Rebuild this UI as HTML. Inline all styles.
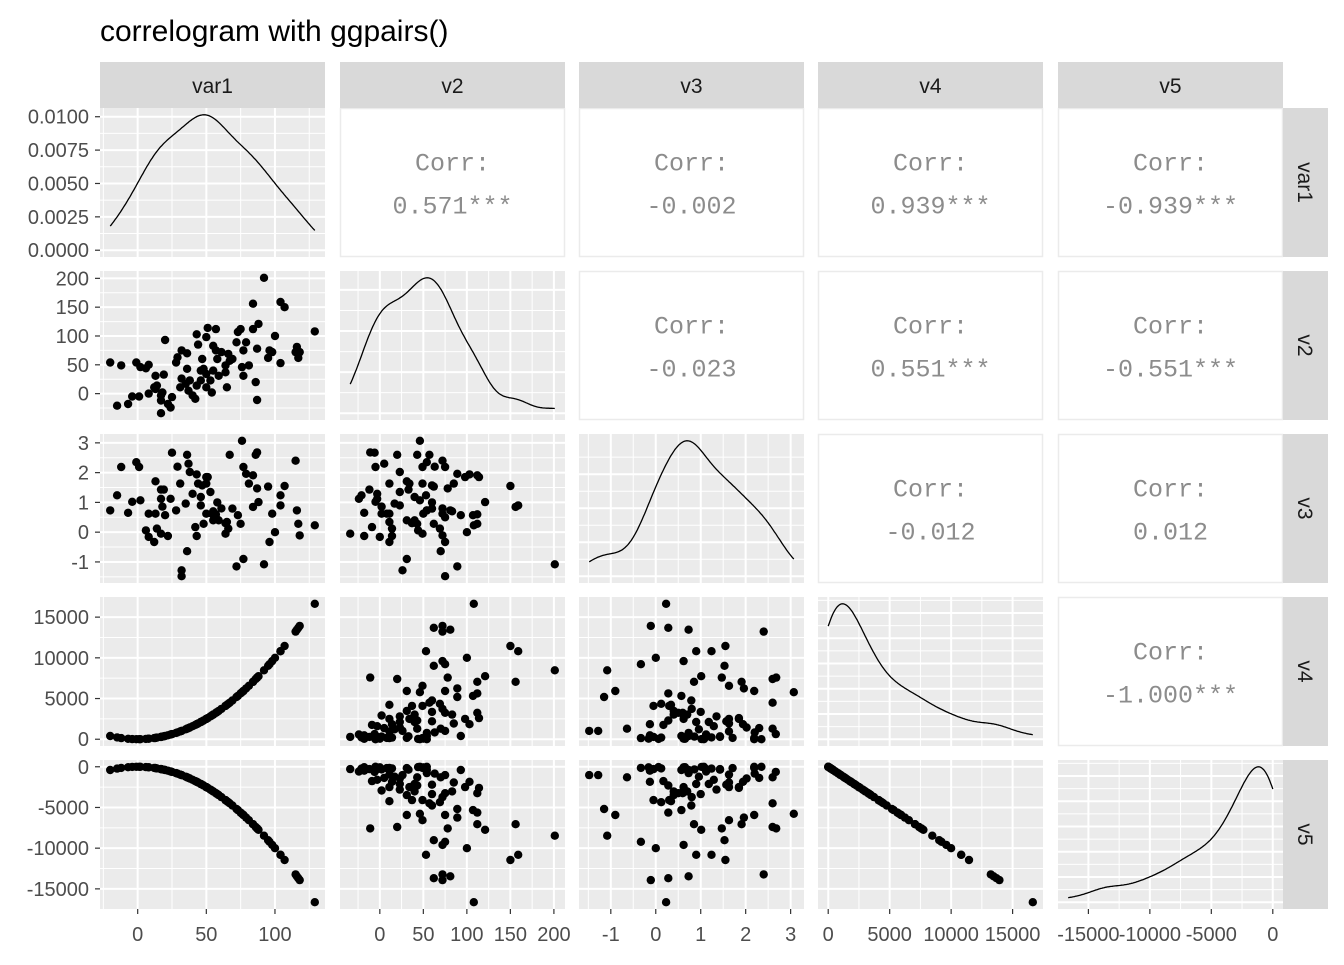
<!DOCTYPE html>
<html><head><meta charset="utf-8"><style>
body{margin:0;background:#fff;}
svg text{font-family:"Liberation Sans",Arial,sans-serif;}
svg text.mono{font-family:"Liberation Mono","Courier New",monospace;}
</style></head><body>
<svg id="chart" width="1344" height="960" xmlns="http://www.w3.org/2000/svg">
<text x="100" y="41" font-size="30" fill="#000">correlogram with ggpairs()</text>
</svg>
<script>
const var1 = [-20,-15,-12,-7,-4,-1,1,2,6,8, 8,12,13,13,14,17,17,17,18,19, 20,22,24,25,28,29,31,32,32,35, 36,36,37,38,40,42,43,43,44,46, 46,47,48,50,50,50,51,53,54,55, 55,57,57,58,59,61,64,64,65,66, 67,69,72,73,75,76,77,77,79,81, 84,84,86,87,87,88,92,95,96,98, 100,104,104,107,115,116,117,118,129];
const v2 = [54,-21,49,-18,-5,54,-5,46,44,50, 0,11,31,8,14,-12,-34,-3,2,33, 93,-18,-24,-6,54,63,11,75,26,17, 70,43,5,23,-3,-9,14,103,85,40, 23,60,43,98,11,34,114,23,2,40, 83,75,112,60,31,72,37,49,11,69, 57,60,89,107,112,46,75,31,89,49, 156,112,20,-11,78,121,201,62,75,72, 100,53,159,150,72,81,62,72,108];
const v3 = [0.73,1.24,2.19,0.65,1.02,2.35,2.19,1.07,0.06,0.62,
-0.16,-0.33,1.71,0.62,0.12,1.43,-0.05,1.12,0.86,1.43,
0.57,-0.13,1.12,2.67,0.73,2.2,1.63,-1.48,-1.28,0.96,
-0.64,2.6,2.3,2.02,1.29,0.17,-0.13,1.94,1.63,1.18,
0.9,1.57,0.28,1.85,0.62,1.63,1.85,1.35,0.62,0.4,
0.7,0.5,0.6,1.0,0.4,0.8,0.3,
-0.05,0.34,0.12,2.6,0.79,-1.15,0.57,0.28,3.07,2.19,
-0.9,1.96,1.63,0.85,1.91,2.6,2.68,1.47,1.01,-1.08,
1.53,-0.33,0.62,0.0,1.24,0.9,1.55,2.4,0.73,0.28,
-0.11,0.23];
const v4 = var1.map(v => v * v);
const v5 = var1.map(v => -v * v);
const varNames = ["var1","v2","v3","v4","v5"];
const corrLabels = {"0-1":"0.571***","0-2":"-0.002","0-3":"0.939***","0-4":"-0.939***",
  "1-2":"-0.023","1-3":"0.551***","1-4":"-0.551***","2-3":"-0.012","2-4":"0.012","3-4":"-1.000***"};
const xBreaks = [[0,50,100],[0,50,100,150,200],[-1,0,1,2,3],[0,5000,10000,15000],[-15000,-10000,-5000,0]];
const xBreakLabels = [["0","50","100"],["0","50","100","150","200"],["-1","0","1","2","3"],["0","5000","10000","15000"],["-15000","-10000","-5000","0"]];
const yBreaks = [[0,0.0025,0.005,0.0075,0.01],[0,50,100,150,200],[-1,0,1,2,3],[0,5000,10000,15000],[-15000,-10000,-5000,0]];
const yBreakLabels = [["0.0000","0.0025","0.0050","0.0075","0.0100"],["0","50","100","150","200"],["-1","0","1","2","3"],["0","5000","10000","15000"],["-15000","-10000","-5000","0"]];

const data = [var1, v2, v3, v4, v5];
const NS = "http://www.w3.org/2000/svg";
const svg = document.getElementById("chart");
const colX = [100,340,579,818,1058], PW = 225;
const rowY = [108,271,434,597,760], PH = 149;
function mk(tag, attrs, parent){const e=document.createElementNS(NS,tag);for(const k in attrs)e.setAttribute(k,attrs[k]);(parent||svg).appendChild(e);return e;}
function range(a){let mn=Math.min(...a),mx=Math.max(...a);const d=(mx-mn)*0.05;return [mn-d,mx+d];}
function scale(dom, r0, r1){return v => r0 + (v-dom[0])/(dom[1]-dom[0])*(r1-r0);}
function kde(a){const n=a.length;const m=a.reduce((s,v)=>s+v,0)/n;
  const sd=Math.sqrt(a.reduce((s,v)=>s+(v-m)*(v-m),0)/(n-1));
  const s=[...a].sort((p,q)=>p-q);const iqr=(s[Math.floor(0.75*n)]-s[Math.floor(0.25*n)])/1.34;
  const h=0.9*Math.min(sd,iqr)*Math.pow(n,-0.2);
  const mn=s[0],mx=s[n-1],pts=[];
  for(let i=0;i<=200;i++){const x=mn+(mx-mn)*i/200;let d=0;for(const v of a){const z=(x-v)/h;d+=Math.exp(-0.5*z*z);}pts.push([x,d/(n*h*Math.sqrt(2*Math.PI))]);}
  return pts;}
function minors(br){const out=[];const st=br[1]-br[0];for(let i=-1;i<br.length;i++)out.push(br[0]+st*(i+0.5));return out;}
function niceBreaks(lo,hi){const raw=(hi-lo)/4;const p=Math.pow(10,Math.floor(Math.log10(raw)));const m=raw/p;const st=(m<1.5?1:m<3.5?2.5:m<7.5?5:10)*p;const out=[];for(let v=Math.ceil(lo/st)*st;v<=hi;v+=st)out.push(v);return out;}

for(let r=0;r<5;r++){
  for(let c=0;c<5;c++){
    const x0=colX[c],y0=rowY[r];
    const g=mk("g",{});
    
    
    if(c>r){
      mk("rect",{x:x0+0.5,y:y0+0.5,width:PW-1,height:PH-1,fill:"#fff",stroke:"#EBEBEB","stroke-width":1.5},g);
      const cy=y0+PH/2;
      const t1=mk("text",{class:"mono",x:x0+PW/2,y:cy-12,"text-anchor":"middle","font-size":25,fill:"#8C8C8C"},g);
      t1.textContent="Corr:";
      
      
      const t2=mk("text",{class:"mono",x:x0+PW/2,y:cy+31,"text-anchor":"middle","font-size":25,fill:"#8C8C8C"},g);
      t2.textContent=corrLabels[r+"-"+c];
      
      
      continue;
    }
    mk("rect",{x:x0,y:y0,width:PW,height:PH,fill:"#EBEBEB"},g);
    const xd=range(data[c]);const sx=scale(xd,x0,x0+PW);
    let sy, yb;
    let dens=null;
    if(r===c){
      dens=kde(data[c]);const mx=Math.max(...dens.map(p=>p[1]));
      const yd=[-mx*0.05,mx*1.05];sy=scale(yd,y0+PH,y0);
      yb = r===0 ? yBreaks[0] : niceBreaks(0,mx);
    } else {
      const yd=range(data[r]);sy=scale(yd,y0+PH,y0);yb=yBreaks[r];
    }
    const clip=v=>v>=y0&&v<=y0+PH;
    const clipx=v=>v>=x0&&v<=x0+PW;
    for(const m of minors(yb)){const y=sy(m);if(clip(y))mk("line",{x1:x0,x2:x0+PW,y1:y,y2:y,stroke:"#fff","stroke-width":1},g);}
    for(const m of minors(xBreaks[c])){const x=sx(m);if(clipx(x))mk("line",{x1:x,x2:x,y1:y0,y2:y0+PH,stroke:"#fff","stroke-width":1},g);}
    for(const b of yb){const y=sy(b);if(clip(y))mk("line",{x1:x0,x2:x0+PW,y1:y,y2:y,stroke:"#fff","stroke-width":2},g);}
    for(const b of xBreaks[c]){const x=sx(b);if(clipx(x))mk("line",{x1:x,x2:x,y1:y0,y2:y0+PH,stroke:"#fff","stroke-width":2},g);}
    if(dens){
      const p=mk("path",{d:dens.map((q,i)=>(i?"L":"M")+sx(q[0]).toFixed(1)+","+sy(q[1]).toFixed(1)).join(""),fill:"none",stroke:"#000","stroke-width":1.3},g);
      
      
    } else {
      for(let i=0;i<data[c].length;i++){
        const pt=mk("circle",{cx:sx(data[c][i]).toFixed(1),cy:sy(data[r][i]).toFixed(1),r:4.2,fill:"#000"},g);
        
        
      }
    }
    if(c===0){
      const labs = yBreakLabels[r];
      yBreaks[r].forEach((b,i)=>{
        const y=sy(b);
        mk("line",{x1:95,x2:100,y1:y,y2:y,stroke:"#333","stroke-width":1.2});
        const t=mk("text",{x:89,y:y+7,"text-anchor":"end","font-size":20,fill:"#4D4D4D"});
        t.textContent=labs[i];
        
        
      });
    }
    if(r===4){
      xBreaks[c].forEach((b,i)=>{
        const x=sx(b);
        mk("line",{x1:x,x2:x,y1:909,y2:914,stroke:"#333","stroke-width":1.2});
        const t=mk("text",{x:x,y:941,"text-anchor":"middle","font-size":20,fill:"#4D4D4D"});
        t.textContent=xBreakLabels[c][i];
        
        
      });
    }
  }
}
for(let c=0;c<5;c++){
  const s=mk("rect",{x:colX[c],y:62,width:PW,height:46,fill:"#D9D9D9"});
  
  
  const t=mk("text",{x:colX[c]+PW/2,y:93,"text-anchor":"middle","font-size":21,fill:"#1A1A1A"});
  t.textContent=varNames[c];
  
  
}
for(let r=0;r<5;r++){
  const s=mk("rect",{x:1283,y:rowY[r],width:45,height:PH,fill:"#D9D9D9"});
  
  
  const cy=rowY[r]+PH/2;
  const t=mk("text",{x:1298,y:cy,"text-anchor":"middle","font-size":21,fill:"#1A1A1A",transform:"rotate(90 1298 "+cy+")"});
  t.textContent=varNames[r];
  
  
}
</script>
</body></html>
